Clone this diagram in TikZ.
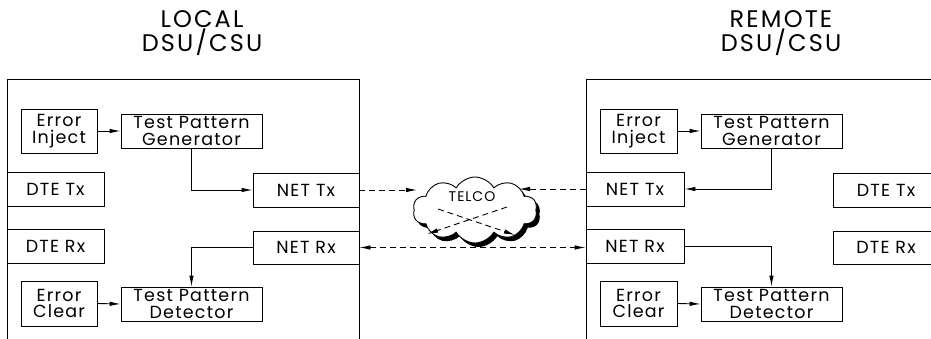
\documentclass[tikz,border=0pt]{standalone}
\usepackage{fontspec}
\setmainfont{Poppins}
\newfontfamily\boxfont[LetterSpace=7]{Poppins}
\newfontfamily\ttlfont[LetterSpace=9]{Poppins}
\usetikzlibrary{arrows.meta,shapes.symbols,shadows}
\begin{document}
\begin{tikzpicture}[x=1pt,y=-1pt,
  line width=0.9pt,
  box/.style={draw,fill=white,inner sep=0pt,align=center,font=\boxfont\fontsize{17.5}{16.5}\selectfont,line width=0.9pt},
  ttl/.style={align=center,font=\ttlfont\fontsize{24}{24.5}\selectfont},
  arr/.style={-{Latex[length=11pt,width=4.5pt]}},
  darr/.style={{Latex[length=11pt,width=4.5pt]}-{Latex[length=11pt,width=4.5pt]}},
  dsh/.style={dash pattern=on 6pt off 4pt}]
\useasboundingbox (0,0) rectangle (931,338);
% titles
\node[ttl] (ltitle) at (202,33) {LOCAL\\DSU/CSU};
\node[ttl] (rtitle) at (781,33) {REMOTE\\DSU/CSU};
% enclosures
\draw (7,345) -- (7,79) -- (359,79) -- (359,345);
\draw (586,345) -- (586,79) -- (940,79);
% left unit
\node[box,minimum width=76,minimum height=44] (lei) at (59,131) {Error\\Inject};
\node[box,minimum width=141,minimum height=34] (ltpg) at (191.5,131) {Test Pattern\\Generator};
\node[box,minimum width=97,minimum height=34] (ldtetx) at (55.5,189) {DTE Tx};
\node[box,minimum width=106,minimum height=34] (lnettx) at (306,190) {NET Tx};
\node[box,minimum width=97,minimum height=34] (ldterx) at (55.5,246) {DTE Rx};
\node[box,minimum width=106,minimum height=33] (lnetrx) at (306,247.5) {NET Rx};
\node[box,minimum width=76,minimum height=45] (lec) at (59,303.5) {Error\\Clear};
\node[box,minimum width=141,minimum height=34] (ltpd) at (191.5,304) {Test Pattern\\Detector};
% right unit
\node[box,minimum width=77,minimum height=44] (rei) at (638.5,131) {Error\\Inject};
\node[box,minimum width=141,minimum height=34] (rtpg) at (771.5,131) {Test Pattern\\Generator};
\node[box,minimum width=98,minimum height=34] (rnettx) at (635,189) {NET Tx};
\node[box,minimum width=106,minimum height=34] (rdtetx) at (886,190) {DTE Tx};
\node[box,minimum width=98,minimum height=34] (rnetrx) at (635,246) {NET Rx};
\node[box,minimum width=106,minimum height=33] (rdterx) at (886,247.5) {DTE Rx};
\node[box,minimum width=77,minimum height=45] (rec) at (638.5,303.5) {Error\\Clear};
\node[box,minimum width=141,minimum height=34] (rtpd) at (771.5,304) {Test Pattern\\Detector};
% internal connectors
\draw[arr] (lei.east) -- (ltpg.west);
\draw[arr] (lec.east) -- (ltpd.west);
\draw[arr] (ltpg.south) |- (lnettx.west);
\draw[arr] (lnetrx.west) -| (ltpd.north);
\draw[arr] (rei.east) -- (rtpg.west);
\draw[arr] (rec.east) -- (rtpd.west);
\draw[arr] (rtpg.south) |- (rnettx.east);
\draw[arr] (rnetrx.east) -| (rtpd.north);
% network
\draw[darr,dsh] (lnetrx.east) -- (lnetrx.east -| rnetrx.west);
\node[cloud,cloud puffs=10,cloud puff arc=120,aspect=1.9,draw,fill=white,
  minimum width=124,minimum height=66,inner sep=0pt,line width=0.9pt,
  drop shadow={shadow xshift=3.5pt,shadow yshift=-4pt,fill=black,opacity=1}] (telco) at (475,210) {};
\node[font=\boxfont\fontsize{14}{14}\selectfont] (telcotxt) at (472,197) {TELCO};
\coordinate (cl) at (417,190);
\coordinate (cr) at (519,189);
\draw[arr,dsh] (lnettx.east) -- (cl);
\draw[arr,dsh] (rnettx.west) -- (cr);
\coordinate (xa) at (438,209);
\coordinate (xb) at (515,235);
\coordinate (xc) at (507,207);
\coordinate (xd) at (427,234);
\draw[arr,dsh] (xa) -- (xb);
\draw[arr,dsh] (xc) -- (xd);
\end{tikzpicture}
\end{document}
